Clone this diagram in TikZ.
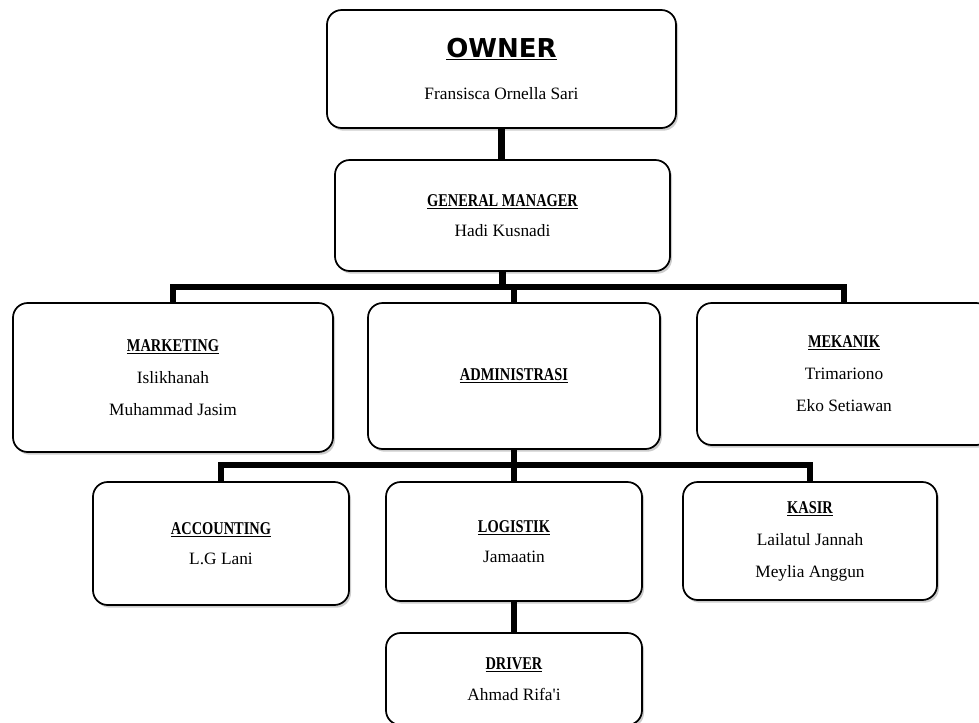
\documentclass[tikz,border=0pt]{standalone}
\usepackage{fontspec}
\setmainfont{Liberation Serif}[Ligatures=TeXOff]
\newfontfamily\titlefont{Liberation Serif}[FakeStretch=0.8]
\newfontfamily\ownerfont{DejaVu Sans}
\usetikzlibrary{shadows}
\newcommand{\ttl}[1]{{\titlefont\bfseries\fontsize{13.5pt}{16pt}\selectfont\underline{#1}}}
\tikzset{
  box/.style={draw, line width=1.3pt, rounded corners=11pt, fill=white,
    drop shadow={shadow xshift=1.5pt, shadow yshift=-2pt, opacity=0.2, fill=black},
    align=center, inner sep=0pt, font=\fontsize{13pt}{24pt}\selectfont},
  conn/.style={line width=4pt, line cap=butt, line join=miter},
  thickconn/.style={line width=5pt, line cap=butt}
}
\begin{document}
\begin{tikzpicture}[x=0.75pt,y=-0.75pt]
\useasboundingbox (0,0) rectangle (979,722);
% boxes
\node[box, minimum width=261.75pt, minimum height=88.5pt] (own) at (501.5,69)
  {{\ownerfont\bfseries\fontsize{19.5pt}{21pt}\selectfont\underline{OWNER}}\\[8pt]Fransisca Ornella Sari};
\node[box, minimum width=251.25pt, minimum height=83.25pt] (gm) at (502.5,215.5)
  {\ttl{GENERAL MANAGER}\\[-1.5pt]Hadi Kusnadi};
\node[box, minimum width=240pt, minimum height=111.75pt] (mkt) at (173,377.5)
  {\ttl{MARKETING}\\Islikhanah\\Muhammad Jasim};
\node[box, minimum width=219pt, minimum height=109.5pt] (adm) at (514,376)
  {\ttl{ADMINISTRASI}};
\node[box, minimum width=220.5pt, minimum height=106.5pt] (mek) at (844,374)
  {\ttl{MEKANIK}\\Trimariono\\Eko Setiawan};
\node[box, minimum width=192pt, minimum height=92.25pt] (acc) at (221,543.5)
  {\ttl{ACCOUNTING}\\[-1pt]L.G Lani};
\node[box, minimum width=192pt, minimum height=89.25pt] (log) at (514,541.5)
  {\ttl{LOGISTIK}\\[-1pt]Jamaatin};
\node[box, minimum width=190.5pt, minimum height=88.5pt] (kas) at (810,541)
  {\ttl{KASIR}\\Lailatul Jannah\\Meylia Anggun};
\node[box, minimum width=192pt, minimum height=69pt] (drv) at (514,679)
  {\ttl{DRIVER}\\[-1pt]Ahmad Rifa'i};
% connectors
\coordinate (b1) at (502,287);
\coordinate (b2) at (514,465);
\draw[thickconn] (own.south) -- (own.south |- gm.north);
\draw[thickconn] (gm.south) -- (gm.south |- b1);
\draw[conn] (mkt.north) |- (b1) -| (mek.north);
\draw[conn] (adm.north |- b1) -- (adm.north);
\draw[conn] (adm.south) -- (log.north);
\draw[conn] (acc.north) |- (b2) -| (kas.north);
\draw[conn] (log.south) -- (drv.north);
\end{tikzpicture}
\end{document}
